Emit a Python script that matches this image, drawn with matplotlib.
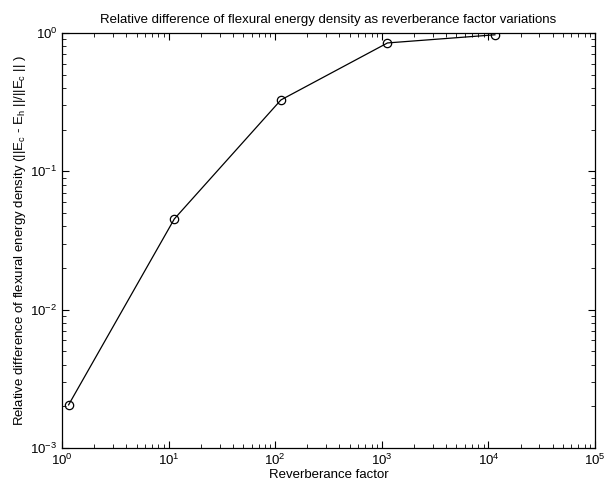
import numpy as np
import matplotlib.pyplot as plt

plt.rcParams['font.family'] = ['Liberation Sans', 'DejaVu Sans']
plt.rcParams['mathtext.fontset'] = 'custom'
plt.rcParams['mathtext.rm'] = 'Liberation Sans'
plt.rcParams['mathtext.it'] = 'Liberation Sans'

# values
reverb = [1.15, 11.3, 113, 1130, 11500]
rel_diff = [0.00205, 0.0453, 0.328, 0.847, 0.97]

fig = plt.figure(figsize=(6.09, 4.92), dpi=100)
ax = fig.add_axes([0.102, 0.0894, 0.875, 0.8436])

ax.loglog(reverb, rel_diff, '-o', color='black', lw=0.9,
          markerfacecolor='none', markersize=6, markeredgewidth=0.9)

ax.set_xlim(1, 1e5)
ax.set_ylim(1e-3, 1)
ax.tick_params(which='both', direction='in', top=True, right=True, labelsize=9.5)
ax.tick_params(which='major', length=5)
ax.tick_params(which='minor', length=3)
for s in ax.spines.values():
    s.set_linewidth(0.9)

ax.set_title('Relative difference of flexural energy density as reverberance factor variations',
             fontsize=9.5, pad=7)
ax.set_xlabel('Reverberance factor', fontsize=9.5, labelpad=1)
ax.set_ylabel(r'Relative difference of flexural energy density (||E$_c$ - E$_h$ ||/||E$_c$ || )',
              fontsize=9.5, labelpad=1.5)

fig.savefig('out.png', dpi=100)
